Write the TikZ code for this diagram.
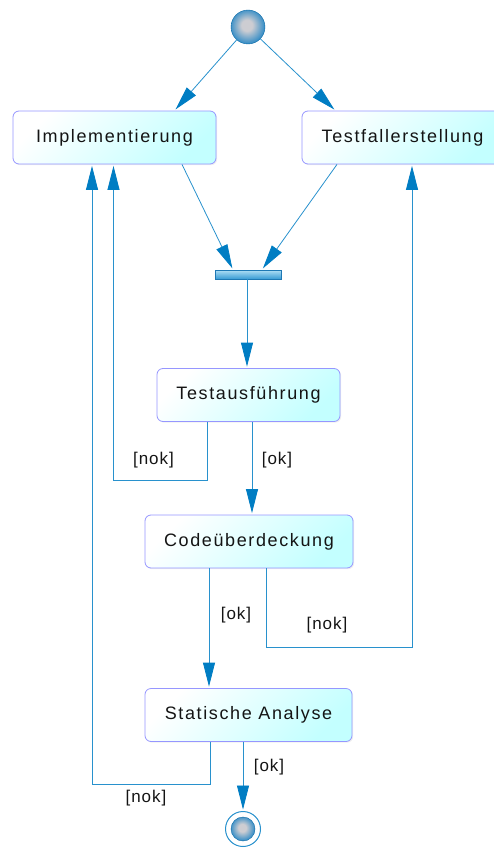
\documentclass[tikz,border=0pt]{standalone}
\usepackage{fontspec}
\setmainfont{Liberation Sans}[LetterSpace=9]
\newfontfamily\guardfont{Liberation Sans}[LetterSpace=6]
\usetikzlibrary{arrows.meta,shadows}

\definecolor{flow}{RGB}{40,145,205}
\definecolor{tipblue}{RGB}{0,125,195}
\definecolor{frame}{RGB}{150,150,255}
\definecolor{cyanfill}{RGB}{195,255,255}
\definecolor{ballin}{RGB}{205,205,210}
\definecolor{ballout}{RGB}{15,125,195}
\definecolor{barlight}{RGB}{175,222,245}
\definecolor{bardark}{RGB}{55,155,212}
\definecolor{barframe}{RGB}{30,120,180}
\definecolor{ink}{RGB}{20,20,20}

\pgfdeclareradialshading{stateball}{\pgfpoint{-2bp}{3bp}}{%
  color(0bp)=(ballin); color(8bp)=(ballin);
  color(30bp)=(ballout); color(50bp)=(ballout)}

\begin{document}
\begin{tikzpicture}[x=1pt,y=-1pt,
  action/.style={rectangle, rounded corners=6pt, draw=frame, line width=0.8pt,
    top color=white, bottom color=cyanfill, shading angle=45,
    minimum height=53pt, inner sep=0pt, text=ink,
    font=\fontsize{18}{20}\selectfont,
    drop shadow={opacity=0.12, shadow xshift=1.2pt, shadow yshift=-1.2pt}},
  ballnode/.style={circle, inner sep=0pt, shading=stateball, draw=ballout!85!black, line width=0.4pt},
  forkbar/.style={rectangle, inner sep=0pt, minimum width=66pt, minimum height=9pt,
    top color=barlight, bottom color=bardark, draw=barframe, line width=0.6pt},
  flowline/.style={draw=flow, line width=0.8pt},
  arr/.style={flowline, shorten >=1.5pt,
    -{Triangle[length=24pt,width=12pt,fill=tipblue,color=tipblue]}},
  guard/.style={font=\guardfont\fontsize{17}{19}\selectfont, text=ink, inner sep=0pt},
]
\useasboundingbox (0,0) rectangle (494,848);

% initial and final states
\node[ballnode, minimum size=34pt] (start) at (248,27) {};
\node[circle, draw=flow, line width=1pt, fill=white, minimum size=35pt, inner sep=0pt] (finish) at (243,829) {};
\node[ballnode, minimum size=24pt] (finishball) at (finish) {};

% activities
\node[action, minimum width=203pt] (impl) at (114.5,137.5) {Implementierung};
\node[action, minimum width=201pt] (testfall) at (402.5,137.5) {Testfallerstellung};
\node[action, minimum width=183pt] (testaus) at (248.5,395) {Testausführung};
\node[action, minimum width=208pt] (code) at (249,541.5) {Codeüberdeckung};
\node[action, minimum width=207pt] (stat) at (248.5,715) {Statische Analyse};

% synchronisation bar
\node[forkbar] (bar) at (248,274.5) {};

% fork from the start
\draw[arr] (start) -- ([xshift=60pt]impl.north);
\draw[arr] (start) -- ([xshift=-67pt]testfall.north);

% join into the bar
\draw[arr] ([xshift=67.5pt]impl.south) -- ([xshift=-15pt]bar.north);
\draw[arr] ([xshift=-65.5pt]testfall.south) -- ([xshift=14pt]bar.north);
\draw[arr] ([xshift=-1pt]bar.south) -- ([xshift=-1pt]bar.south |- testaus.north);

% test run
\draw[arr] ([xshift=3.5pt]testaus.south) -- ([xshift=3pt]code.north);
\draw[arr] ([xshift=-41.5pt]testaus.south) -- ++(0,58) -| ([xshift=-1pt]impl.south);

% coverage
\draw[arr] ([xshift=-40pt]code.south) -- ([xshift=-39.5pt]stat.north);
\draw[arr] ([xshift=17pt]code.south) -- ++(0,79) -| ([xshift=9.5pt]testfall.south);

% static analysis
\draw[arr] (stat.south -| finish) -- (finish.north);
\draw[arr] ([xshift=-38.5pt]stat.south) -- ++(0,42) -| ([xshift=-22.5pt]impl.south);

% guards
\node[guard] (g1) at (153.5,460) {[nok]};
\node[guard] (g2) at (277,460) {[ok]};
\node[guard] (g3) at (236,615) {[ok]};
\node[guard] (g4) at (327,625) {[nok]};
\node[guard] (g5) at (269,767) {[ok]};
\node[guard] (g6) at (146,798) {[nok]};
\end{tikzpicture}
\end{document}
